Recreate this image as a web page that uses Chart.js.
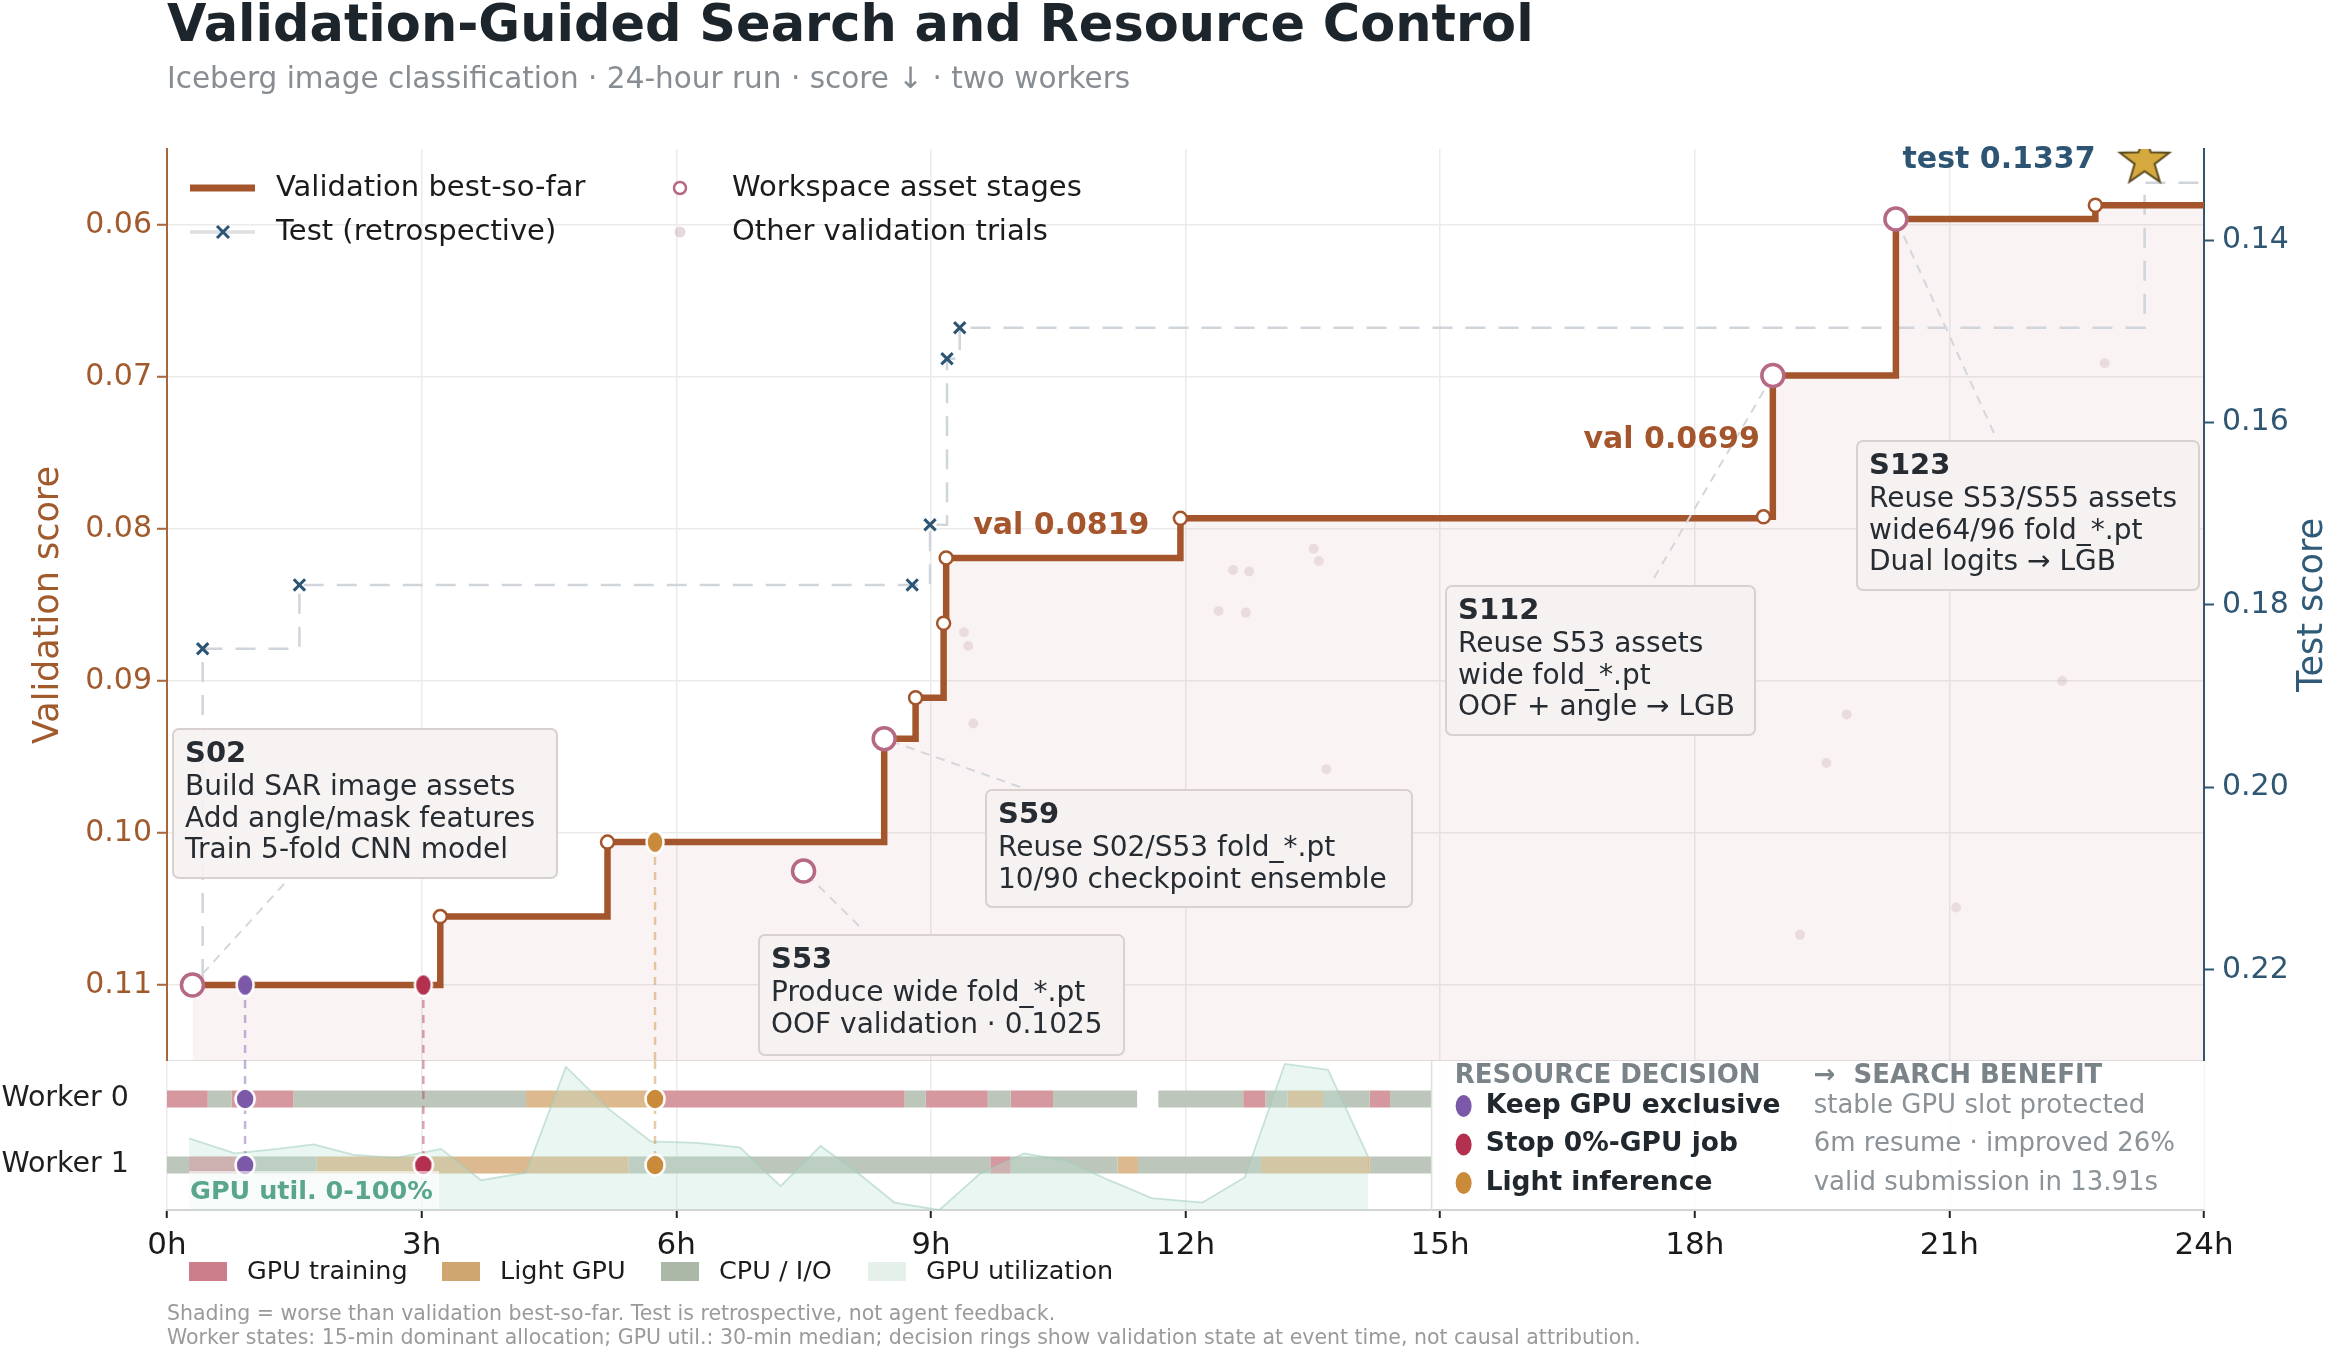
<!DOCTYPE html>
<html>
<head>
<meta charset="utf-8">
<script src="https://cdn.jsdelivr.net/npm/chart.js@4.4.1/dist/chart.umd.min.js"></script>
<style>
html, body { margin: 0; padding: 0; background: #fff; }
#wrap { position: relative; width: 2330px; height: 1348px; overflow: hidden; background: #fff; }
canvas { position: absolute; left: 0; }
</style>
</head>
<body>
<div id="wrap">
  <canvas id="main" width="2330" height="1061" style="top:0;width:2330px;height:1061px"></canvas>
  <canvas id="work" width="2330" height="287" style="top:1061px;width:2330px;height:287px"></canvas>
</div>
<script>
const FONT = 'DejaVu Sans';
Chart.defaults.font.family = FONT;
Chart.defaults.color = '#222';

// ---- data ----
const hourTicks = [0, 3, 6, 9, 12, 15, 18, 21, 24];
const valTicks = [0.06, 0.07, 0.08, 0.09, 0.10, 0.11];
const testTicks = [0.14, 0.16, 0.18, 0.20, 0.22];

const bestHours = [0.30, 3.22, 5.19, 8.45, 8.82, 9.15, 9.18, 11.94, 18.81, 18.92, 20.37, 22.72, 24.0];
const bestVal = [0.1100, 0.1055, 0.1006, 0.0938, 0.0911, 0.0862, 0.0819, 0.0793, 0.0792, 0.0699, 0.0596, 0.0587, 0.0587];
const bestStepMark = [0, 1, 1, 0, 1, 1, 1, 1, 1, 0, 0, 1, 0];

const assetNames = ['S02', 'S53', 'S59', 'S112', 'S123'];
const assetHours = [0.30, 7.50, 8.45, 18.92, 20.37];
const assetVal = [0.1100, 0.1025, 0.0938, 0.0699, 0.0596];
const assetNotes = [
  ['Build SAR image assets', 'Add angle/mask features', 'Train 5-fold CNN model'],
  ['Produce wide fold_*.pt', 'OOF validation · 0.1025'],
  ['Reuse S02/S53 fold_*.pt', '10/90 checkpoint ensemble'],
  ['Reuse S53 assets', 'wide fold_*.pt', 'OOF + angle → LGB'],
  ['Reuse S53/S55 assets', 'wide64/96 fold_*.pt', 'Dual logits → LGB']
];

const testHours = [0.42, 0.42, 1.56, 8.78, 8.99, 9.19, 9.34, 23.30, 24.0];
const testVal = [0.221, 0.1848, 0.1778, 0.1778, 0.1712, 0.1530, 0.1496, 0.1337, 0.1337];
const testMarked = [0, 1, 1, 1, 1, 1, 1, 0, 0];
const finalTestHour = 23.30;
const finalTestVal = 0.1337;

const otherHours = [9.39, 9.44, 9.50, 12.39, 12.56, 12.71, 12.75, 13.51, 13.57, 13.66, 19.24, 19.55, 19.79, 21.08, 22.33, 22.83];
const otherVal = [0.0868, 0.0877, 0.0928, 0.0854, 0.0827, 0.0855, 0.0828, 0.0813, 0.0821, 0.0958, 0.1067, 0.0954, 0.0922, 0.1049, 0.0900, 0.0691];

const decisionNames = ['Keep GPU exclusive', 'Stop 0%-GPU job', 'Light inference'];
const decisionBenefit = ['stable GPU slot protected', '6m resume · improved 26%', 'valid submission in 13.91s'];
const decisionHours = [0.92, 3.02, 5.75];
const decisionVal = [0.1100, 0.1100, 0.1006];
const decisionWorkers = [[0, 1], [1], [0, 1]];
const decisionColors = ['#7b59a8', '#b3304f', '#c98a3a'];

const workerNames = ['Worker 0', 'Worker 1'];
const worker0Segments = [
  [0, 0.48, 'gpu'], [0.48, 0.76, 'cpu'], [0.76, 1.49, 'gpu'], [1.49, 4.23, 'cpu'],
  [4.23, 5.75, 'light'], [5.75, 8.69, 'gpu'], [8.69, 8.94, 'cpu'], [8.94, 9.67, 'gpu'],
  [9.67, 9.94, 'cpu'], [9.94, 10.44, 'gpu'], [10.44, 11.43, 'cpu'], [11.68, 12.68, 'cpu'],
  [12.68, 12.94, 'gpu'], [12.94, 13.20, 'cpu'], [13.20, 13.62, 'light'], [13.62, 14.17, 'cpu'],
  [14.17, 14.41, 'gpu'], [14.41, 14.90, 'cpu']
];
const worker1Segments = [
  [0, 0.26, 'cpu'], [0.26, 0.81, 'gpu'], [0.81, 1.76, 'cpu'], [1.76, 5.44, 'light'],
  [5.44, 9.70, 'cpu'], [9.70, 9.94, 'gpu'], [9.94, 11.20, 'cpu'], [11.20, 11.44, 'light'],
  [11.44, 12.89, 'cpu'], [12.89, 14.17, 'light'], [14.17, 14.90, 'cpu']
];
const stateNames = ['GPU training', 'Light GPU', 'CPU / I/O', 'GPU utilization'];

const utilHours = [0.26, 0.80, 1.30, 1.73, 2.20, 2.70, 3.23, 3.70, 4.23, 4.70, 5.20, 5.70, 6.25, 6.75, 7.23, 7.70, 8.16, 8.57, 9.10, 9.57, 10.10, 10.60, 11.10, 11.60, 12.20, 12.70, 13.17, 13.68, 14.15];
const utilPct = [48, 38, 41, 44, 37, 35, 41, 20, 25, 96, 68, 46, 45, 42, 16, 43, 24, 5, 0, 24, 38, 33, 20, 8, 5, 22, 98, 94, 36];

// ---- styling / layout ----
const BROWN = '#a4552b';
const BROWN_TXT = '#a05a2c';
const BLUE = '#2c5473';
const RING = '#b66985';
const stateColors = { gpu: '#d5989f', light: '#dcb98e', cpu: '#bdc6bb' };
const legendColors = ['#cc7f89', '#cfa570', '#abb8a7', '#e5f0eb'];
const rowPos = [0.745, 0.302];
const boxStartHour = 14.9;

const boxLayout = {
  S02:  { x: 173,  y: 729, w: 384, h: 149, ax: 284,  ay: 884 },
  S53:  { x: 759,  y: 935, w: 365, h: 120, ax: 859,  ay: 926 },
  S59:  { x: 986,  y: 790, w: 426, h: 117, ax: 1020, ay: 787 },
  S112: { x: 1446, y: 586, w: 309, h: 149, ax: 1654, ay: 578 },
  S123: { x: 1857, y: 441, w: 342, h: 149, ax: 1994, ay: 433 }
};

function alpha(hex, a) {
  const n = parseInt(hex.slice(1), 16);
  return `rgba(${n >> 16},${(n >> 8) & 255},${n & 255},${a})`;
}

function dotImage(color, rx, ry, edge) {
  const c = document.createElement('canvas');
  c.width = Math.ceil(2 * (rx + edge) + 2);
  c.height = Math.ceil(2 * (ry + edge) + 2);
  const g = c.getContext('2d');
  g.beginPath();
  g.ellipse(c.width / 2, c.height / 2, rx, ry, 0, 0, Math.PI * 2);
  g.fillStyle = color;
  g.fill();
  g.lineWidth = edge;
  g.strokeStyle = '#fff';
  g.stroke();
  return c;
}

// star sits a little above the final test value
function starImage() {
  const c = document.createElement('canvas');
  c.width = 56; c.height = 102;
  const g = c.getContext('2d');
  g.beginPath();
  for (let i = 0; i < 10; i++) {
    const r = i % 2 ? 10.5 : 26;
    const a = -Math.PI / 2 + i * Math.PI / 5;
    g.lineTo(28 + r * Math.cos(a), 29 + r * Math.sin(a));
  }
  g.closePath();
  g.fillStyle = '#d6a93f';
  g.fill();
  g.strokeStyle = '#5b4a1e';
  g.lineWidth = 2;
  g.stroke();
  return c;
}

const fixTicks = (vals) => (scale) => { scale.ticks = vals.map(v => ({ value: v })); };
// fixed axis width, and no extra room reserved for the end labels
const fixWidth = (w) => (scale) => { scale.width = w; scale.paddingTop = 0; scale.paddingBottom = 0; };

// ---- main panel ----
const mainDecor = {
  id: 'mainDecor',
  afterDraw(chart) {
    const { ctx, scales: { x, y, y2 } } = chart;
    ctx.save();
    ctx.textBaseline = 'middle';

    // title
    ctx.fillStyle = '#1d252c';
    ctx.font = `bold 51px ${FONT}`;
    ctx.fillText('Validation-Guided Search and Resource Control', 167, 28);
    ctx.fillStyle = '#878d93';
    ctx.font = `29.5px ${FONT}`;
    ctx.fillText('Iceberg image classification · 24-hour run · score ↓ · two workers', 167, 80);

    // axis titles
    ctx.font = `35px ${FONT}`;
    ctx.textAlign = 'center';
    ctx.save();
    ctx.translate(49, 605); ctx.rotate(-Math.PI / 2);
    ctx.fillStyle = BROWN_TXT;
    ctx.fillText('Validation score', 0, 0);
    ctx.restore();
    ctx.save();
    ctx.translate(2313, 605); ctx.rotate(-Math.PI / 2);
    ctx.fillStyle = '#2f5a78';
    ctx.fillText('Test score', 0, 0);
    ctx.restore();
    ctx.textAlign = 'left';

    // connectors from boxes to asset stages
    ctx.setLineDash([9, 7]);
    ctx.strokeStyle = '#d3d7db';
    ctx.lineWidth = 2;
    assetNames.forEach((n, i) => {
      const b = boxLayout[n];
      const px = x.getPixelForValue(assetHours[i]);
      const py = y.getPixelForValue(assetVal[i]);
      const d = Math.hypot(px - b.ax, py - b.ay);
      ctx.beginPath();
      ctx.moveTo(b.ax, b.ay);
      ctx.lineTo(px + (b.ax - px) * 13 / d, py + (b.ay - py) * 13 / d);
      ctx.stroke();
    });
    ctx.setLineDash([]);

    // annotation boxes
    assetNames.forEach((n, i) => {
      const b = boxLayout[n];
      ctx.beginPath();
      ctx.roundRect(b.x, b.y, b.w, b.h, 6);
      ctx.fillStyle = 'rgba(247,242,242,0.94)';
      ctx.fill();
      ctx.strokeStyle = '#d9d0d0';
      ctx.lineWidth = 2;
      ctx.stroke();
      ctx.fillStyle = '#262c31';
      ctx.font = `bold 29px ${FONT}`;
      ctx.fillText(n, b.x + 12, b.y + 25);
      ctx.font = `28px ${FONT}`;
      assetNotes[i].forEach((t, k) => ctx.fillText(t, b.x + 12, b.y + 59 + k * 31.5));
    });

    // value labels
    ctx.font = `bold 30px ${FONT}`;
    ctx.fillStyle = BROWN;
    ctx.fillText('val ' + bestVal[6].toFixed(4), x.getPixelForValue(bestHours[6]) + 27, y.getPixelForValue(bestVal[6]) - 32);
    ctx.textAlign = 'right';
    ctx.fillText('val ' + bestVal[9].toFixed(4), x.getPixelForValue(bestHours[9]) - 13, y.getPixelForValue(bestVal[9]) + 65);
    ctx.fillStyle = '#2d5573';
    ctx.fillText('test ' + finalTestVal.toFixed(4), x.getPixelForValue(finalTestHour) - 49, y2.getPixelForValue(finalTestVal) - 23);
    ctx.textAlign = 'left';

    // legend
    ctx.font = `29px ${FONT}`;
    ctx.fillStyle = '#1b1b1b';
    ctx.strokeStyle = BROWN; ctx.lineWidth = 7;
    ctx.beginPath(); ctx.moveTo(190, 188); ctx.lineTo(255, 188); ctx.stroke();
    ctx.fillText('Validation best-so-far', 276, 188);
    ctx.strokeStyle = '#dde1e4'; ctx.lineWidth = 3.5;
    ctx.beginPath(); ctx.moveTo(190, 232); ctx.lineTo(255, 232); ctx.stroke();
    ctx.strokeStyle = BLUE; ctx.lineWidth = 3;
    ctx.beginPath();
    ctx.moveTo(217, 226); ctx.lineTo(229, 238);
    ctx.moveTo(229, 226); ctx.lineTo(217, 238);
    ctx.stroke();
    ctx.fillText('Test (retrospective)', 276, 232);
    ctx.beginPath(); ctx.arc(680, 188, 6, 0, Math.PI * 2);
    ctx.fillStyle = '#fff'; ctx.fill();
    ctx.strokeStyle = RING; ctx.lineWidth = 2.5; ctx.stroke();
    ctx.beginPath(); ctx.arc(680, 232, 5.5, 0, Math.PI * 2);
    ctx.fillStyle = 'rgba(200,170,175,0.45)'; ctx.fill();
    ctx.fillStyle = '#1b1b1b';
    ctx.fillText('Workspace asset stages', 732, 188);
    ctx.fillText('Other validation trials', 732, 232);
    ctx.restore();
  }
};

const mainChart = new Chart(document.getElementById('main'), {
  type: 'line',
  data: {
    datasets: [
      {
        data: decisionHours.map((h, i) => ({ x: h, y: decisionVal[i] })),
        showLine: false,
        pointStyle: decisionColors.map(c => dotImage(c, 8.5, 11, 2.5)),
        pointRadius: 10,
        order: 0
      },
      {
        data: [{ x: finalTestHour, y: finalTestVal }],
        yAxisID: 'y2',
        showLine: false,
        pointStyle: starImage(),
        pointRadius: 10,
        order: 0
      },
      {
        data: assetHours.map((h, i) => ({ x: h, y: assetVal[i] })),
        showLine: false,
        pointRadius: 11,
        pointBackgroundColor: '#fff',
        pointBorderColor: RING,
        pointBorderWidth: 3.5,
        order: 1
      },
      {
        data: bestHours.map((h, i) => ({ x: h, y: bestVal[i] })),
        stepped: true,
        borderColor: BROWN,
        borderWidth: 6.5,
        pointRadius: bestStepMark.map(m => (m ? 6.5 : 0)),
        pointBackgroundColor: '#fff',
        pointBorderColor: BROWN,
        pointBorderWidth: 2.5,
        fill: { value: 0.115 },
        backgroundColor: 'rgba(200,120,120,0.085)',
        order: 2
      },
      ...decisionHours.map((h, i) => ({
        data: [{ x: h, y: decisionVal[i] }, { x: h, y: 0.115 }],
        borderColor: alpha(decisionColors[i], 0.45),
        borderDash: [8, 7],
        borderWidth: 2.5,
        pointRadius: 0,
        order: 3
      })),
      {
        data: otherHours.map((h, i) => ({ x: h, y: otherVal[i] })),
        showLine: false,
        pointRadius: 5,
        pointBackgroundColor: 'rgba(200,170,175,0.3)',
        pointBorderWidth: 0,
        order: 4
      },
      {
        data: testHours.map((h, i) => ({ x: h, y: testVal[i] })),
        yAxisID: 'y2',
        stepped: true,
        borderColor: '#cfd5da',
        borderDash: [20, 13],
        borderWidth: 2.5,
        pointStyle: 'crossRot',
        pointRadius: testMarked.map(m => (m ? 8 : 0)),
        pointBorderColor: BLUE,
        pointBorderWidth: 3,
        order: 5
      }
    ]
  },
  options: {
    responsive: false,
    animation: false,
    devicePixelRatio: 1,
    layout: { autoPadding: false, padding: { top: 149, bottom: 0, left: 0, right: 0 } },
    plugins: {
      legend: { display: false },
      tooltip: { enabled: false },
      filler: { drawTime: 'beforeDatasetsDraw' }
    },
    scales: {
      x: {
        type: 'linear', min: 0, max: 24,
        afterBuildTicks: fixTicks(hourTicks),
        afterFit: (s) => { s.height = 0; s.paddingLeft = 0; s.paddingRight = 0; },
        ticks: { display: false },
        grid: { color: '#ebebeb', lineWidth: 1.5, drawTicks: false },
        border: { display: true, color: '#e3e3e3', width: 1.5 }
      },
      y: {
        position: 'left', reverse: true, min: 0.055, max: 0.115,
        afterBuildTicks: fixTicks(valTicks),
        afterFit: fixWidth(167),
        ticks: { color: BROWN_TXT, font: { size: 30 }, padding: 5, callback: v => v.toFixed(2) },
        grid: { color: '#ebebeb', lineWidth: 1.5, tickColor: '#a8653a', tickLength: 10, tickWidth: 2 },
        border: { color: '#a8653a', width: 2 }
      },
      y2: {
        position: 'right', reverse: true, min: 0.13, max: 0.23,
        afterBuildTicks: fixTicks(testTicks),
        afterFit: fixWidth(126),
        ticks: { color: '#2f5673', font: { size: 30 }, padding: 8, callback: v => v.toFixed(2) },
        grid: { drawOnChartArea: false, tickColor: '#2f5570', tickLength: 10, tickWidth: 2 },
        border: { color: '#2f5570', width: 2 }
      }
    }
  },
  plugins: [mainDecor]
});

// ---- worker panel ----
const workDecor = {
  id: 'workDecor',
  afterDatasetsDraw(chart) {
    const { ctx, chartArea: a, scales: { x } } = chart;
    ctx.save();
    ctx.textBaseline = 'middle';

    // GPU util label
    ctx.fillStyle = 'rgba(255,255,255,0.6)';
    ctx.fillRect(x.getPixelForValue(utilHours[0]), 110, 250, a.bottom - 111);
    ctx.fillStyle = '#5aa68b';
    ctx.font = `bold 25.5px ${FONT}`;
    ctx.fillText('GPU util. 0-100%', 190, 131);

    // resource decision box
    const bx = x.getPixelForValue(boxStartHour);
    ctx.fillStyle = 'rgba(255,255,255,0.9)';
    ctx.fillRect(bx, a.top, a.right - bx, a.bottom - a.top - 1);
    ctx.strokeStyle = '#e0e0e0';
    ctx.lineWidth = 1.5;
    ctx.beginPath(); ctx.moveTo(bx, a.top); ctx.lineTo(bx, a.bottom); ctx.stroke();

    ctx.font = `bold 26px ${FONT}`;
    ctx.fillStyle = '#7a8388';
    ctx.fillText('RESOURCE DECISION', bx + 23, 15);
    ctx.fillText('→  SEARCH BENEFIT', bx + 382, 15);
    decisionNames.forEach((n, i) => {
      const yy = 45 + i * 38.5;
      ctx.beginPath();
      ctx.ellipse(bx + 32, yy, 8, 11, 0, 0, Math.PI * 2);
      ctx.fillStyle = decisionColors[i];
      ctx.fill();
      ctx.font = `bold 26.5px ${FONT}`;
      ctx.fillStyle = '#20272d';
      ctx.fillText(n, bx + 54, yy);
      ctx.font = `26px ${FONT}`;
      ctx.fillStyle = '#8b9398';
      ctx.fillText(decisionBenefit[i], bx + 382, yy);
    });

    // state legend
    ctx.font = `25.5px ${FONT}`;
    const lx = [189, 442, 661, 868];
    stateNames.forEach((n, i) => {
      ctx.fillStyle = legendColors[i];
      ctx.fillRect(lx[i], 201, 38, 19);
      ctx.fillStyle = '#1b1b1b';
      ctx.fillText(n, lx[i] + 58, 211);
    });

    // footnotes
    ctx.font = `20.5px ${FONT}`;
    ctx.fillStyle = '#9a9a9a';
    ctx.fillText('Shading = worse than validation best-so-far. Test is retrospective, not agent feedback.', 167, 254);
    ctx.fillText('Worker states: 15-min dominant allocation; GPU util.: 30-min median; decision rings show validation state at event time, not causal attribution.', 167, 278);
    ctx.restore();
  }
};

const segmentSets = [];
[worker0Segments, worker1Segments].forEach((segs, w) => {
  segs.forEach(([s, e, st]) => {
    segmentSets.push({
      data: [{ x: s, y: rowPos[w] }, { x: e, y: rowPos[w] }],
      yAxisID: 'rows',
      borderColor: stateColors[st],
      borderWidth: 17,
      borderCapStyle: 'butt',
      pointRadius: 0,
      order: 4
    });
  });
});

const workerMarks = [];
const workerMarkImgs = [];
const workerDotImgs = decisionColors.map(c => dotImage(c, 9.5, 10.5, 2.5));
decisionHours.forEach((h, i) => {
  decisionWorkers[i].forEach(w => {
    workerMarks.push({ x: h, y: rowPos[w] });
    workerMarkImgs.push(workerDotImgs[i]);
  });
});

const workChart = new Chart(document.getElementById('work'), {
  type: 'line',
  data: {
    datasets: [
      {
        data: workerMarks,
        yAxisID: 'rows',
        showLine: false,
        pointStyle: workerMarkImgs,
        pointRadius: 10,
        order: 0
      },
      ...decisionHours.map((h, i) => ({
        data: [{ x: h, y: 1 }, { x: h, y: 0.2 }],
        yAxisID: 'rows',
        borderColor: alpha(decisionColors[i], 0.45),
        borderDash: [8, 7],
        borderWidth: 2.5,
        pointRadius: 0,
        order: 1
      })),
      {
        data: utilHours.map((h, i) => ({ x: h, y: utilPct[i] })),
        yAxisID: 'util',
        borderColor: 'rgba(160,205,188,0.55)',
        borderWidth: 1.8,
        backgroundColor: 'rgba(190,228,212,0.32)',
        fill: 'origin',
        pointRadius: 0,
        order: 2
      },
      ...segmentSets
    ]
  },
  options: {
    responsive: false,
    animation: false,
    devicePixelRatio: 1,
    layout: { autoPadding: false, padding: { top: 0, bottom: 78, left: 0, right: 126 } },
    plugins: { legend: { display: false }, tooltip: { enabled: false } },
    scales: {
      x: {
        type: 'linear', min: 0, max: 24,
        afterBuildTicks: fixTicks(hourTicks),
        afterFit: (s) => { s.height = 60; },
        ticks: { color: '#1a1a1a', font: { size: 31 }, padding: 9, maxRotation: 0, callback: v => v + 'h' },
        grid: { color: '#ebebeb', lineWidth: 1.5, tickColor: '#222', tickLength: 8, tickWidth: 2 },
        border: { color: '#d3d3d3', width: 2 }
      },
      rows: {
        axis: 'y', position: 'left', min: 0, max: 1,
        afterBuildTicks: fixTicks(rowPos),
        afterFit: fixWidth(167),
        ticks: { color: '#1f1f1f', font: { size: 28.5 }, padding: 30, callback: (v, i) => workerNames[i] },
        grid: { display: false },
        border: { display: false }
      },
      util: { axis: 'y', position: 'left', min: 0, max: 100, display: false }
    }
  },
  plugins: [workDecor]
});
</script>
</body>
</html>
